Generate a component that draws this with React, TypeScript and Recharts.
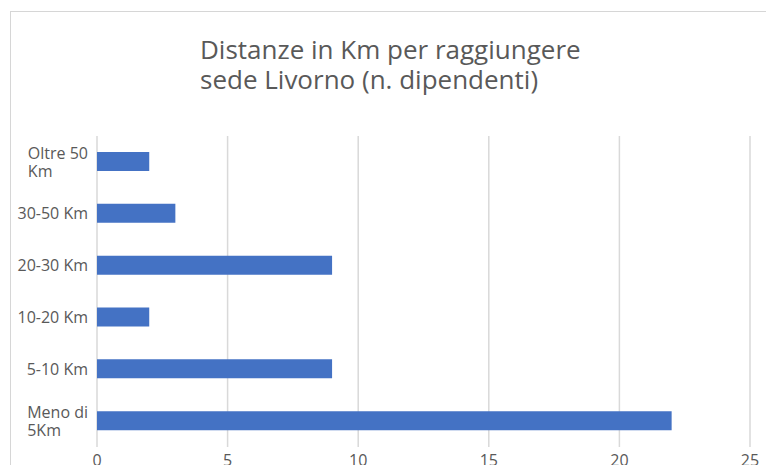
import React from "react";
import { BarChart, Bar, XAxis, YAxis, CartesianGrid } from "recharts";

const categories = ["Oltre 50\nKm", "30-50 Km", "20-30 Km", "10-20 Km", "5-10 Km", "Meno di\n5Km"];
const employees = [2, 3, 9, 2, 9, 22];
const xTicks = [0, 5, 10, 15, 20, 25];
const titleLines = ["Distanze in Km per raggiungere", "sede Livorno (n. dipendenti)"];

const data = categories.map((name, i) => ({ name, value: employees[i] }));

const FONT = "'Open Sans', sans-serif";
const TEXT = "#595959";
const GRID = "#d9d9d9";

let ctx: CanvasRenderingContext2D | null = null;
function measure(text: string, size: number) {
  if (!ctx) ctx = document.createElement("canvas").getContext("2d");
  if (!ctx) return text.length * size * 0.55;
  ctx.font = `${size}px ${FONT}`;
  return ctx.measureText(text).width;
}

// Excel-style wrapped labels: block right-aligned, lines left-aligned inside it
function CategoryTick(props: any) {
  const { x, y, payload } = props;
  const lines: string[] = String(payload.value).split("\n");
  const right = x - 7;
  const width = Math.max(...lines.map((l) => measure(l, 16)));
  const lh = 18;
  const start = y - ((lines.length - 1) * lh) / 2;
  return (
    <text fill={TEXT} fontSize={16} fontFamily={FONT} textAnchor="start">
      {lines.map((l, i) => (
        <tspan key={i} x={right - width} y={start + i * lh} dy="0.35em">
          {l}
        </tspan>
      ))}
    </text>
  );
}

export default function App() {
  return (
    <div
      style={{
        position: "absolute",
        left: 0,
        top: 0,
        width: 766,
        height: 465,
        overflow: "hidden",
        background: "#fff",
      }}
    >
      <div
        style={{
          position: "absolute",
          left: 10,
          top: 11,
          width: 800,
          height: 500,
          border: "1px solid #d6d6d6",
        }}
      />
      <div
        style={{
          position: "absolute",
          left: 200,
          top: 34,
          fontFamily: FONT,
          fontSize: 26,
          lineHeight: "30px",
          color: TEXT,
          whiteSpace: "pre",
        }}
      >
        {titleLines.join("\n")}
      </div>
      <div style={{ position: "absolute", left: 0, top: 0 }}>
        <BarChart
          width={766}
          height={465}
          data={data}
          layout="vertical"
          margin={{ top: 136, right: 16, left: 0, bottom: 0 }}
        >
          <CartesianGrid horizontal={false} stroke={GRID} strokeWidth={1.5} />
          <XAxis
            type="number"
            domain={[0, 25]}
            ticks={xTicks}
            height={18}
            axisLine={false}
            tickLine={false}
            tickSize={0}
            tickMargin={8}
            tick={{ fill: TEXT, fontSize: 16, fontFamily: FONT }}
            interval={0}
          />
          <YAxis
            type="category"
            dataKey="name"
            width={97}
            axisLine={false}
            tickLine={false}
            tickSize={0}
            tick={<CategoryTick />}
            interval={0}
          />
          <Bar dataKey="value" fill="#4472C4" barSize={19} isAnimationActive={false} />
        </BarChart>
      </div>
    </div>
  );
}
